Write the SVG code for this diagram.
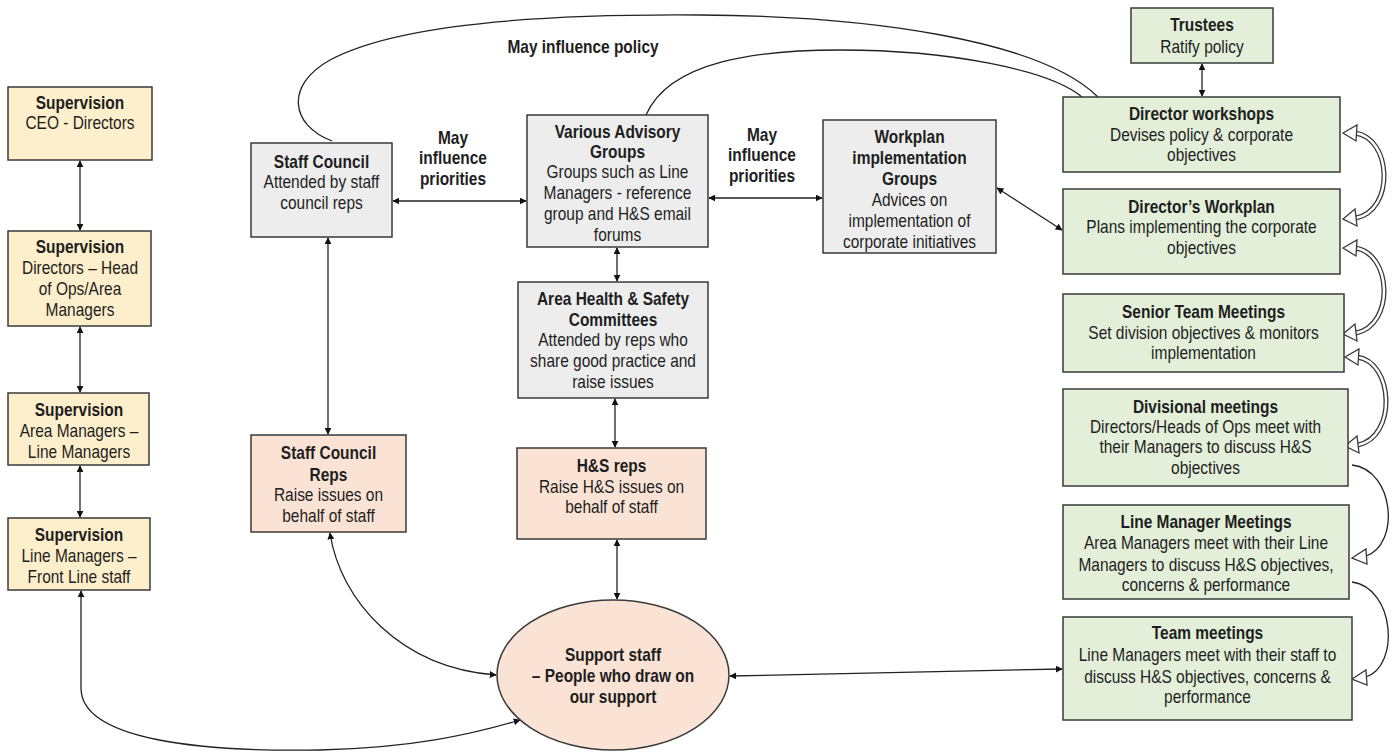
<svg xmlns="http://www.w3.org/2000/svg" width="1398" height="754" viewBox="0 0 1398 754">
<defs>
<style>
.bx{stroke:#3a3a3a;stroke-width:1.5}
.y{fill:#FDEFCB}.g{fill:#EDEDED}.o{fill:#FAE3D5}.gr{fill:#E3EFD9}
text{font-family:"Liberation Sans",Arial,sans-serif;font-size:18px;fill:#1e1e1e;text-anchor:middle}
.b{font-weight:bold}
.c{fill:none;stroke:#222;stroke-width:1.3}
.a{marker-start:url(#ah);marker-end:url(#ah)}
.dl{fill:none;stroke:#3a3a3a;stroke-width:5}
.dli{fill:none;stroke:#fff;stroke-width:2.4}
.h{fill:#fff;stroke:#3a3a3a;stroke-width:1.3}
</style>
<marker id="ah" viewBox="0 0 10 10" refX="9" refY="5" markerWidth="7" markerHeight="7" orient="auto-start-reverse" markerUnits="userSpaceOnUse">
<path d="M0,0 L10,5 L0,10 z" fill="#111"/>
</marker>
</defs>

<g id="connectors">
<path class="c a" d="M80,161 L80,230"/>
<path class="c a" d="M80,327 L80,392"/>
<path class="c a" d="M80,466 L80,517"/>
<path class="c a" d="M81,591 L81,688 C81,740 200,752 320,750 C410,748 470,735 520,720"/>
<path class="c a" d="M393,201 L526,201"/>
<path class="c a" d="M709,198 L822,198"/>
<path class="c a" d="M997,188 L1062,230"/>
<path class="c a" d="M1202,64 L1202,96"/>
<path class="c a" d="M617,248 L617,281"/>
<path class="c a" d="M615,399 L615,447"/>
<path class="c a" d="M617,540 L617,599"/>
<path class="c a" d="M328,238 L328,434"/>
<path class="c a" d="M330,533 C340,600 400,668 496,675"/>
<path class="c a" d="M730,676 L1062,669"/>
<path class="c" d="M332,141 C290,125 285,85 330,60 C400,22 560,14 700,15 C870,16 1040,40 1098,97"/>
<path class="c" d="M646,115 C670,60 760,50 840,50 C950,50 1050,70 1082,97"/>
<path class="dl" d="M1355,133 C1392,138 1395,210 1356,218"/>
<path class="dli" d="M1355,133 C1392,138 1395,210 1356,218"/>
<path class="dl" d="M1355,248 C1392,253 1395,325 1356,333"/>
<path class="dli" d="M1355,248 C1392,253 1395,325 1356,333"/>
<path class="dl" d="M1357,357 C1394,362 1397,437 1358,445"/>
<path class="dli" d="M1357,357 C1394,362 1397,437 1358,445"/>
<polygon class="h" points="1343,133 1357,125 1356,141"/>
<polygon class="h" points="1343,219 1355,209 1357,226"/>
<polygon class="h" points="1343,248 1357,240 1356,256"/>
<polygon class="h" points="1343,334 1355,324 1357,341"/>
<polygon class="h" points="1345,357 1359,349 1358,365"/>
<polygon class="h" points="1345,446 1357,436 1359,453"/>
<path class="c" d="M1352,465 C1395,470 1400,545 1366,556"/>
<polygon class="h" points="1352,558 1366,549 1367,564"/>
<path class="c" d="M1352,582 C1395,588 1400,666 1366,677"/>
<polygon class="h" points="1352,679 1366,670 1367,685"/>
</g>

<g id="label-policy"><g transform="translate(583 0) scale(0.86 1)"><text class="b" x="0" y="53">May influence policy</text></g></g>
<g id="label-prio1"><g transform="translate(453 0) scale(0.86 1)"><text class="b" x="0" y="144">May</text><text class="b" x="0" y="164">influence</text><text class="b" x="0" y="185">priorities</text></g></g>
<g id="label-prio2"><g transform="translate(762 0) scale(0.86 1)"><text class="b" x="0" y="141">May</text><text class="b" x="0" y="161">influence</text><text class="b" x="0" y="182">priorities</text></g></g>

<g id="sup1"><rect class="bx y" x="8" y="87" width="144" height="73"/>
<g transform="translate(80 0) scale(0.86 1)"><text class="b" x="0" y="109">Supervision</text><text x="0" y="129">CEO - Directors</text></g></g>
<g id="sup2"><rect class="bx y" x="8" y="231" width="143" height="95"/>
<g transform="translate(80 0) scale(0.86 1)"><text class="b" x="0" y="253">Supervision</text><text x="0" y="274">Directors – Head</text><text x="0" y="295">of Ops/Area</text><text x="0" y="316">Managers</text></g></g>
<g id="sup3"><rect class="bx y" x="8" y="393" width="141" height="72"/>
<g transform="translate(79 0) scale(0.86 1)"><text class="b" x="0" y="416">Supervision</text><text x="0" y="437">Area Managers –</text><text x="0" y="458">Line Managers</text></g></g>
<g id="sup4"><rect class="bx y" x="8" y="518" width="142" height="72"/>
<g transform="translate(79 0) scale(0.86 1)"><text class="b" x="0" y="541">Supervision</text><text x="0" y="562">Line Managers –</text><text x="0" y="583">Front Line staff</text></g></g>

<g id="staff-council"><rect class="bx g" x="251" y="143" width="141" height="94"/>
<g transform="translate(321.5 0) scale(0.86 1)"><text class="b" x="0" y="168">Staff Council</text><text x="0" y="188">Attended by staff</text><text x="0" y="209">council reps</text></g></g>
<g id="advisory"><rect class="bx g" x="527" y="115" width="181" height="132"/>
<g transform="translate(617.5 0) scale(0.86 1)"><text class="b" x="0" y="138">Various Advisory</text><text class="b" x="0" y="158">Groups</text><text x="0" y="178">Groups such as Line</text><text x="0" y="199">Managers - reference</text><text x="0" y="220">group and H&amp;S email</text><text x="0" y="241">forums</text></g></g>
<g id="workplan-groups"><rect class="bx g" x="823" y="120" width="173" height="133"/>
<g transform="translate(909.5 0) scale(0.86 1)"><text class="b" x="0" y="143">Workplan</text><text class="b" x="0" y="164">implementation</text><text class="b" x="0" y="185">Groups</text><text x="0" y="206">Advices on</text><text x="0" y="227">implementation of</text><text x="0" y="248">corporate initiatives</text></g></g>
<g id="area-hs"><rect class="bx g" x="518" y="282" width="190" height="116"/>
<g transform="translate(613 0) scale(0.86 1)"><text class="b" x="0" y="305">Area Health &amp; Safety</text><text class="b" x="0" y="326">Committees</text><text x="0" y="346">Attended by reps who</text><text x="0" y="367">share good practice and</text><text x="0" y="388">raise issues</text></g></g>
<g id="sc-reps"><rect class="bx o" x="251" y="435" width="155" height="97"/>
<g transform="translate(328.5 0) scale(0.86 1)"><text class="b" x="0" y="459">Staff Council</text><text class="b" x="0" y="481">Reps</text><text x="0" y="501">Raise issues on</text><text x="0" y="522">behalf of staff</text></g></g>
<g id="hs-reps"><rect class="bx o" x="517" y="448" width="189" height="91"/>
<g transform="translate(611.5 0) scale(0.86 1)"><text class="b" x="0" y="472">H&amp;S reps</text><text x="0" y="493">Raise H&amp;S issues on</text><text x="0" y="513">behalf of staff</text></g></g>
<g id="support-staff"><ellipse class="bx o" cx="613" cy="675" rx="116" ry="75"/>
<g transform="translate(613 0) scale(0.86 1)"><text class="b" x="0" y="661">Support staff</text><text class="b" x="0" y="682">– People who draw on</text><text class="b" x="0" y="703">our support</text></g></g>

<g id="trustees"><rect class="bx gr" x="1131" y="8" width="142" height="55"/>
<g transform="translate(1202 0) scale(0.86 1)"><text class="b" x="0" y="31">Trustees</text><text x="0" y="53">Ratify policy</text></g></g>
<g id="director-workshops"><rect class="bx gr" x="1063" y="97" width="277" height="75"/>
<g transform="translate(1201.5 0) scale(0.86 1)"><text class="b" x="0" y="120">Director workshops</text><text x="0" y="141">Devises policy &amp; corporate</text><text x="0" y="161">objectives</text></g></g>
<g id="directors-workplan"><rect class="bx gr" x="1063" y="189" width="277" height="85"/>
<g transform="translate(1201.5 0) scale(0.86 1)"><text class="b" x="0" y="213">Director’s Workplan</text><text x="0" y="233">Plans implementing the corporate</text><text x="0" y="254">objectives</text></g></g>
<g id="senior-team"><rect class="bx gr" x="1063" y="294" width="281" height="78"/>
<g transform="translate(1203.5 0) scale(0.86 1)"><text class="b" x="0" y="318">Senior Team Meetings</text><text x="0" y="339">Set division objectives &amp; monitors</text><text x="0" y="359">implementation</text></g></g>
<g id="divisional"><rect class="bx gr" x="1063" y="389" width="285" height="97"/>
<g transform="translate(1205.5 0) scale(0.86 1)"><text class="b" x="0" y="413">Divisional meetings</text><text x="0" y="433">Directors/Heads of Ops meet with</text><text x="0" y="453">their Managers to discuss H&amp;S</text><text x="0" y="474">objectives</text></g></g>
<g id="line-manager"><rect class="bx gr" x="1063" y="505" width="286" height="94"/>
<g transform="translate(1206 0) scale(0.86 1)"><text class="b" x="0" y="528">Line Manager Meetings</text><text x="0" y="549">Area Managers meet with their Line</text><text x="0" y="571">Managers to discuss H&amp;S objectives,</text><text x="0" y="591">concerns &amp; performance</text></g></g>
<g id="team-meetings"><rect class="bx gr" x="1063" y="617" width="289" height="103"/>
<g transform="translate(1207.5 0) scale(0.86 1)"><text class="b" x="0" y="639">Team meetings</text><text x="0" y="661">Line Managers meet with their staff to</text><text x="0" y="683">discuss H&amp;S objectives, concerns &amp;</text><text x="0" y="703">performance</text></g></g>
</svg>
